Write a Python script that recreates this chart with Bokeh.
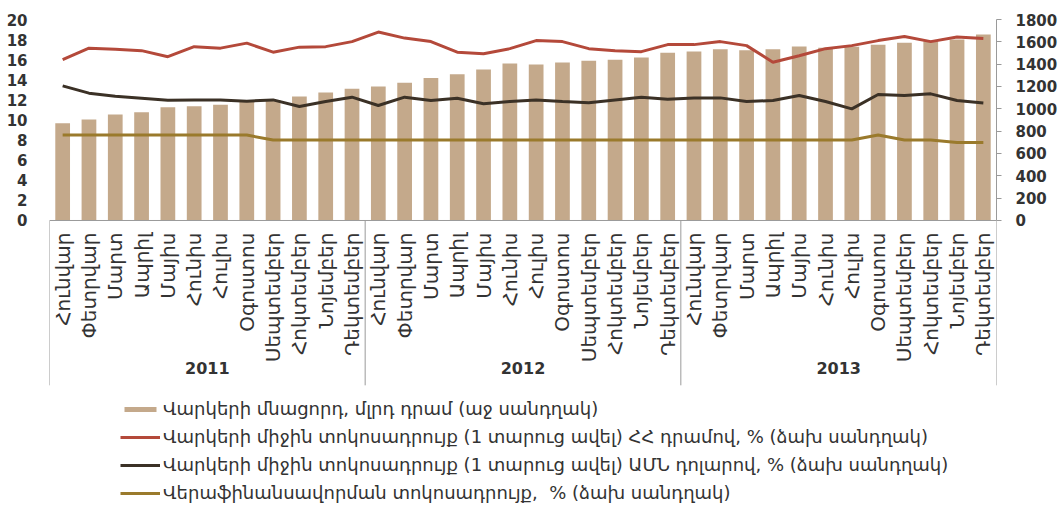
import math
from bokeh.plotting import figure
from bokeh.models import (Range1d, LinearAxis, FixedTicker, Span, Legend, LegendItem,
                          ColumnDataSource)
from bokeh.core.properties import value
from bokeh.embed import file_html
from bokeh.resources import INLINE

# ---------------- data ----------------
years = ["2011", "2012", "2013"]
months = ["Հունվար", "Փետրվար", "Մարտ", "Ապրիլ", "Մայիս", "Հունիս", "Հուլիս",
          "Օգոստոս", "Սեպտեմբեր", "Հոկտեմբեր", "Նոյեմբեր", "Դեկտեմբեր"]

loans = [871, 904, 949, 970, 1015, 1024, 1036, 1065, 1080, 1110, 1146, 1179,
         1200, 1233, 1275, 1310, 1352, 1406, 1397, 1415, 1430, 1439, 1460, 1502,
         1514, 1534, 1525, 1534, 1558, 1548, 1556, 1573, 1591, 1606, 1621, 1666]

rate_amd = [16.0, 17.15, 17.05, 16.9, 16.3, 17.3, 17.15, 17.65, 16.75, 17.25, 17.3, 17.8,
            18.75, 18.15, 17.8, 16.75, 16.6, 17.1, 17.9, 17.8, 17.1, 16.9, 16.8, 17.5,
            17.5, 17.8, 17.4, 15.75, 16.4, 17.1, 17.4, 17.9, 18.3, 17.8, 18.25, 18.1]

rate_usd = [13.4, 12.67, 12.37, 12.17, 11.97, 12.0, 12.0, 11.87, 12.0, 11.34, 11.84, 12.27,
            11.44, 12.27, 11.94, 12.17, 11.61, 11.84, 12.0, 11.84, 11.71, 12.0, 12.27, 12.07,
            12.2, 12.2, 11.84, 11.94, 12.44, 11.84, 11.11, 12.54, 12.44, 12.6, 11.94, 11.68]

refi = [8.5, 8.5, 8.5, 8.5, 8.5, 8.5, 8.5, 8.5, 8.0, 8.0, 8.0, 8.0,
        8.0, 8.0, 8.0, 8.0, 8.0, 8.0, 8.0, 8.0, 8.0, 8.0, 8.0, 8.0,
        8.0, 8.0, 8.0, 8.0, 8.0, 8.0, 8.0, 8.5, 8.0, 8.0, 7.75, 7.75]

legend_labels = [
    "Վարկերի մնացորդ, մլրդ դրամ (աջ սանդղակ)",
    "Վարկերի միջին տոկոսադրույք (1 տարուց ավել) ՀՀ դրամով, % (ձախ սանդղակ)",
    "Վարկերի միջին տոկոսադրույք (1 տարուց ավել) ԱՄՆ դոլարով, % (ձախ սանդղակ)",
    "Վերաֆինանսավորման տոկոսադրույք,  % (ձախ սանդղակ)",
]

# ---------------- layout ----------------
n = len(loans)
nm = len(months)
xs = [i + 0.5 for i in range(n)]
Y0 = -28.16
RATIO = 90.0  # right axis units per left unit

FONT = "DejaVu Sans"
TXT = "#333333"
GRAY = "#9a9a9a"

p = figure(width=1060, height=503, output_backend="svg", toolbar_location=None,
           x_range=Range1d(0, n), y_range=Range1d(Y0, 20),
           x_axis_location=None, y_axis_location=None,
           min_border_left=49, min_border_right=62, min_border_top=19, min_border_bottom=0)
p.outline_line_color = None
p.xgrid.visible = False
p.ygrid.visible = False
p.background_fill_color = "white"
p.extra_y_ranges = {"bars": Range1d(Y0 * RATIO, 20 * RATIO)}

left = LinearAxis(ticker=FixedTicker(ticks=list(range(0, 21, 2))),
                  axis_line_color=None, major_tick_line_color=None, major_tick_out=0,
                  major_tick_in=0, minor_tick_line_color=None, major_label_standoff=22,
                  major_label_text_font=FONT, major_label_text_font_style="bold",
                  major_label_text_font_size="15px", major_label_text_color=TXT)
p.add_layout(left, "left")

right = LinearAxis(y_range_name="bars", ticker=FixedTicker(ticks=list(range(0, 1801, 200))),
                   bounds=(0, 1800), axis_line_color=GRAY, major_tick_line_color=GRAY,
                   major_tick_out=5, major_tick_in=0, minor_tick_line_color=None,
                   major_label_standoff=14,
                   major_label_text_font=FONT, major_label_text_font_style="bold",
                   major_label_text_font_size="15px", major_label_text_color=TXT)
p.add_layout(right, "right")

r_bar = p.vbar(x=xs, top=loans, bottom=0, width=0.56, y_range_name="bars",
               fill_color="#C4A98B", line_color=None)
p.add_layout(Span(location=0, dimension="width", line_color=GRAY, line_width=1))
r_amd = p.line(xs, rate_amd, line_color="#B4493A", line_width=3)
r_usd = p.line(xs, rate_usd, line_color="#3B3126", line_width=3)
r_refi = p.line(xs, refi, line_color="#9A7A2C", line_width=3)

# category labels (months, rotated) and year groups
msrc = ColumnDataSource(dict(x=xs, y=[-1.2] * n, t=[months[i % nm] for i in range(n)]))
p.text(x="x", y="y", text="t", source=msrc, angle=math.pi / 2, text_align="right",
       text_baseline="middle", text_font=value(FONT), text_font_size="20px", text_color=TXT)

sep_x = [k * nm for k in range(len(years) + 1)]
p.segment(x0=sep_x, x1=sep_x, y0=[0] * len(sep_x), y1=[-16.4] * len(sep_x),
          line_color=GRAY, line_width=1)
ysrc = ColumnDataSource(dict(x=[k * nm + nm / 2 for k in range(len(years))],
                             y=[-14.7] * len(years), t=years))
p.text(x="x", y="y", text="t", source=ysrc, text_align="center", text_baseline="middle",
       text_font=value(FONT), text_font_style="bold", text_font_size="16px", text_color=TXT)

legend = Legend(items=[LegendItem(label=legend_labels[0], renderers=[r_bar]),
                       LegendItem(label=legend_labels[1], renderers=[r_amd]),
                       LegendItem(label=legend_labels[2], renderers=[r_usd]),
                       LegendItem(label=legend_labels[3], renderers=[r_refi])],
                location=(71, 0), orientation="vertical", border_line_color=None,
                background_fill_alpha=0, padding=0, margin=0, spacing=7,
                label_height=21, glyph_height=6, glyph_width=40, label_standoff=3,
                label_text_font=FONT, label_text_font_size="18px", label_text_color=TXT)
p.add_layout(legend)

open("out.html", "w").write(file_html(p, INLINE))
